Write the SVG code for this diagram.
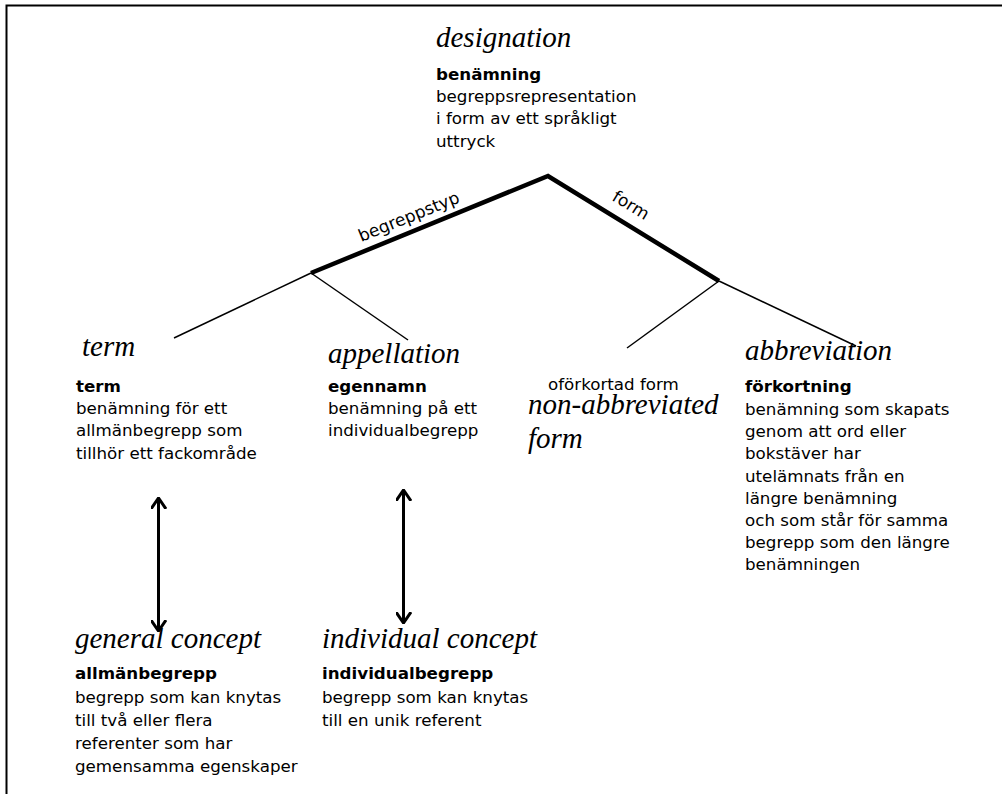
<svg xmlns="http://www.w3.org/2000/svg" width="1002" height="794" viewBox="0 0 1002 794">
  <style>
    .head { font-family: "Liberation Serif", "Times New Roman", serif; font-style: italic; font-size: 29px; fill: #000; }
    .body { font-family: "DejaVu Sans", Verdana, sans-serif; font-size: 16.7px; fill: #000; }
    .bold { font-weight: bold; }
    .thick { stroke: #000; stroke-width: 4.5; fill: none; stroke-linecap: butt; stroke-linejoin: miter; }
    .thin { stroke: #000; stroke-width: 1.5; fill: none; }
    .arrow { stroke: #000; stroke-width: 3; fill: none; }
    .label { font-family: "DejaVu Sans", Verdana, sans-serif; font-size: 17px; fill: #000; }
  </style>
  <defs>
    <marker id="vhead" viewBox="0 0 12 16" refX="11" refY="8" markerWidth="12" markerHeight="16" markerUnits="userSpaceOnUse" orient="auto-start-reverse">
      <path d="M0,0.5 L11,8 L0,15.5" fill="none" stroke="#000" stroke-width="3"/>
    </marker>
  </defs>

  <rect width="1002" height="794" fill="#fff"/>
  <!-- page frame -->
  <path d="M6.5,794 V5.5 H1002" fill="none" stroke="#000" stroke-width="2"/>

  <!-- connectors -->
  <g id="connectors">
    <path class="thick" d="M311,273 L548,176 L719,281"/>
    <path class="thin" d="M311,273 L174,338"/>
    <path class="thin" d="M311,273 L408,340"/>
    <path class="thin" d="M719,281 L627,348"/>
    <path class="thin" d="M719,281 L856,346"/>
    <line class="arrow" x1="158.5" y1="498" x2="158.5" y2="631" marker-start="url(#vhead)" marker-end="url(#vhead)"/>
    <line class="arrow" x1="403.5" y1="490" x2="403.5" y2="623" marker-start="url(#vhead)" marker-end="url(#vhead)"/>
    <text class="label" transform="translate(411,222) rotate(-22)" text-anchor="middle">begreppstyp</text>
    <text class="label" transform="translate(628,210) rotate(31.5)" text-anchor="middle">form</text>
  </g>

  <g id="designation">
    <text class="head" x="436" y="47">designation</text>
    <text class="body bold" x="436" y="80">benämning</text>
    <text class="body" x="436" y="102">begreppsrepresentation</text>
    <text class="body" x="436" y="124">i form av ett språkligt</text>
    <text class="body" x="436" y="147">uttryck</text>
  </g>

  <g id="term">
    <text class="head" x="82" y="356">term</text>
    <text class="body bold" x="76" y="392">term</text>
    <text class="body" x="76" y="414">benämning för ett</text>
    <text class="body" x="76" y="436">allmänbegrepp som</text>
    <text class="body" x="76" y="459">tillhör ett fackområde</text>
  </g>

  <g id="appellation">
    <text class="head" x="328" y="363">appellation</text>
    <text class="body bold" x="328" y="392">egennamn</text>
    <text class="body" x="328" y="414">benämning på ett</text>
    <text class="body" x="328" y="436">individualbegrepp</text>
  </g>

  <g id="non-abbreviated-form">
    <text class="body" x="548" y="390">oförkortad form</text>
    <text class="head" x="528" y="414">non-abbreviated</text>
    <text class="head" x="528" y="448">form</text>
  </g>

  <g id="abbreviation">
    <text class="head" x="745" y="360">abbreviation</text>
    <text class="body bold" x="745" y="392">förkortning</text>
    <text class="body" x="745" y="415">benämning som skapats</text>
    <text class="body" x="745" y="437">genom att ord eller</text>
    <text class="body" x="745" y="459">bokstäver har</text>
    <text class="body" x="745" y="482">utelämnats från en</text>
    <text class="body" x="745" y="504">längre benämning</text>
    <text class="body" x="745" y="526">och som står för samma</text>
    <text class="body" x="745" y="548">begrepp som den längre</text>
    <text class="body" x="745" y="570">benämningen</text>
  </g>

  <g id="general-concept">
    <text class="head" x="75" y="648">general concept</text>
    <text class="body bold" x="75" y="679">allmänbegrepp</text>
    <text class="body" x="75" y="703">begrepp som kan knytas</text>
    <text class="body" x="75" y="726">till två eller flera</text>
    <text class="body" x="75" y="749">referenter som har</text>
    <text class="body" x="75" y="772">gemensamma egenskaper</text>
  </g>

  <g id="individual-concept">
    <text class="head" x="322" y="648">individual concept</text>
    <text class="body bold" x="322" y="679">individualbegrepp</text>
    <text class="body" x="322" y="703">begrepp som kan knytas</text>
    <text class="body" x="322" y="726">till en unik referent</text>
  </g>
</svg>
